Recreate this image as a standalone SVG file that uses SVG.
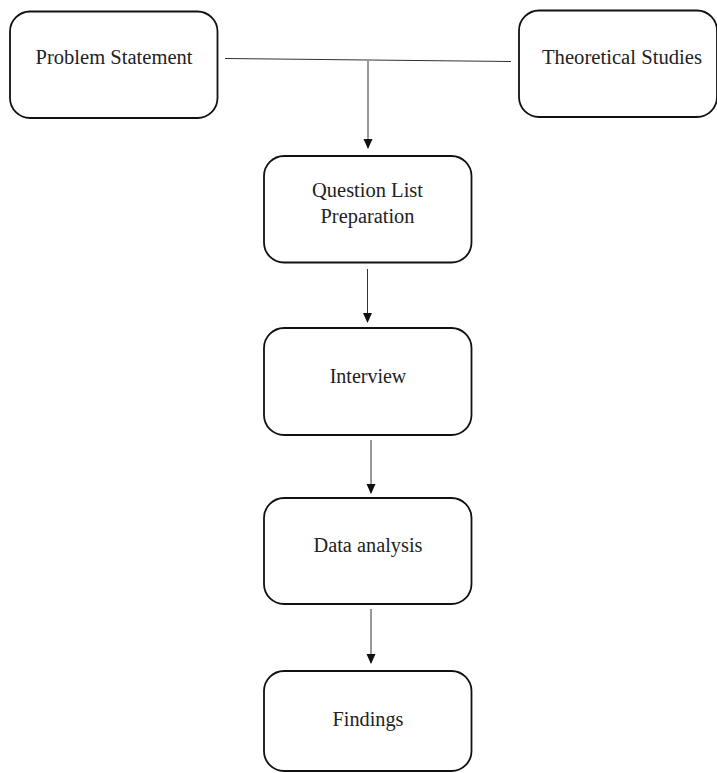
<svg xmlns="http://www.w3.org/2000/svg" width="717" height="773" viewBox="0 0 717 773">
<defs>
<marker id="arr" markerWidth="10" markerHeight="10" refX="9" refY="5" orient="auto" markerUnits="userSpaceOnUse">
<path d="M0,0.5 L10,5 L0,9.5 Z" fill="#111"/>
</marker>
<style>
.box{fill:#fff;stroke:#111;stroke-width:1.8}
.lbl{font-family:"Liberation Serif","Times New Roman",serif;font-size:20px;fill:#222;text-anchor:middle}
.con{stroke:#333;stroke-width:1;fill:none}
</style>
</defs>
<rect width="717" height="773" fill="#fff"/>
<g id="problem-statement">
<rect class="box" x="10" y="11.5" width="207.5" height="106.5" rx="20"/>
<text class="lbl" x="114" y="64" textLength="157" lengthAdjust="spacingAndGlyphs">Problem Statement</text>
</g>
<g id="theoretical-studies">
<rect class="box" x="519" y="10.5" width="198" height="106.5" rx="20"/>
<text class="lbl" x="622" y="64" textLength="160" lengthAdjust="spacingAndGlyphs">Theoretical Studies</text>
</g>
<g id="question-list">
<rect class="box" x="264" y="156" width="207.5" height="106.5" rx="20"/>
<text class="lbl" x="367.5" y="196.5" textLength="111" lengthAdjust="spacingAndGlyphs">Question List</text>
<text class="lbl" x="367.5" y="222.5" textLength="94" lengthAdjust="spacingAndGlyphs">Preparation</text>
</g>
<g id="interview">
<rect class="box" x="264" y="328" width="207.5" height="107" rx="20"/>
<text class="lbl" x="368" y="383">Interview</text>
</g>
<g id="data-analysis">
<rect class="box" x="264" y="498" width="207.5" height="106" rx="20"/>
<text class="lbl" x="368" y="551.5" textLength="109" lengthAdjust="spacingAndGlyphs">Data analysis</text>
</g>
<g id="findings">
<rect class="box" x="264" y="671" width="207.5" height="100" rx="20"/>
<text class="lbl" x="368" y="725.5" textLength="71" lengthAdjust="spacingAndGlyphs">Findings</text>
</g>
<g id="connectors">
<line class="con" x1="225" y1="58.5" x2="511" y2="61.5"/>
<line class="con" x1="368" y1="61" x2="368" y2="148" marker-end="url(#arr)"/>
<line class="con" x1="367.5" y1="269" x2="367.5" y2="322" marker-end="url(#arr)"/>
<line class="con" x1="371" y1="440" x2="371" y2="493" marker-end="url(#arr)"/>
<line class="con" x1="371" y1="609" x2="371" y2="663" marker-end="url(#arr)"/>
</g>
</svg>
